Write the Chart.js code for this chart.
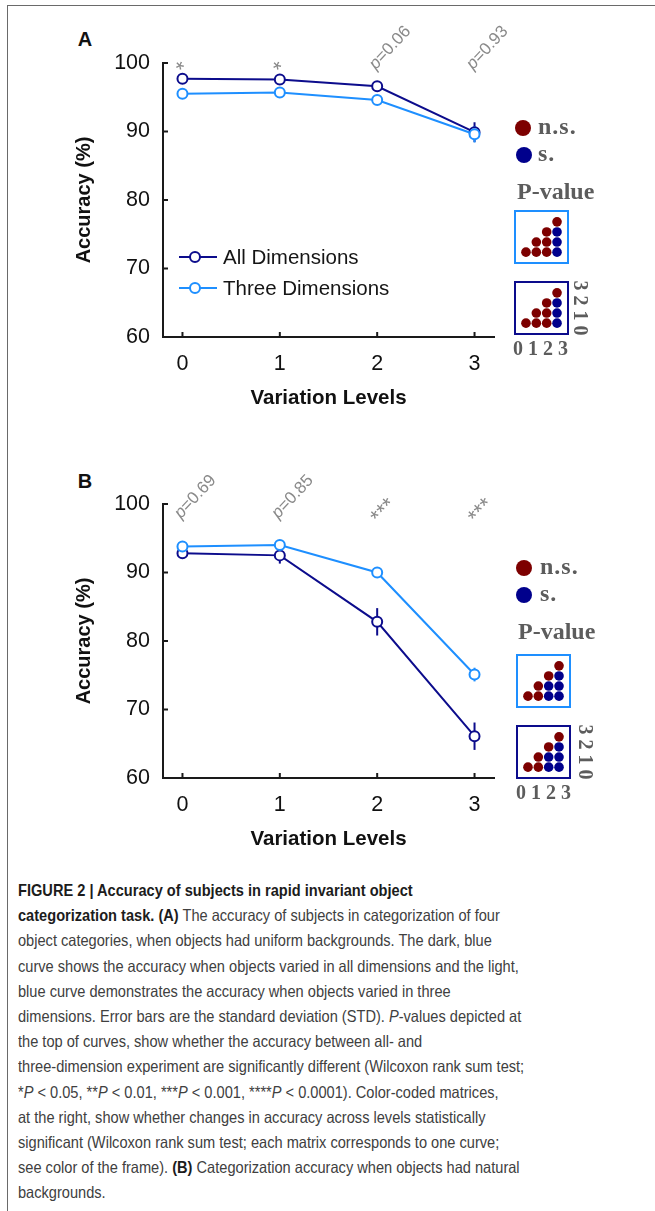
<!DOCTYPE html>
<html>
<head>
<meta charset="utf-8">
<script src="https://cdn.jsdelivr.net/npm/chart.js@4.4.0/dist/chart.umd.min.js"></script>
<style>
  html, body { margin: 0; padding: 0; background: #fff; }
  body { width: 655px; height: 1211px; position: relative; overflow: hidden; font-family: 'Liberation Sans', Arial, sans-serif; }
  .frame { position: absolute; left: 7px; top: 5px; right: -5px; bottom: -5px; border-left: 1.5px solid #6a6a6a; border-top: 1.5px solid #6a6a6a; }
  .abs { position: absolute; }
  .panel-letter { font: bold 20px 'Liberation Sans', Arial, sans-serif; color: #111; transform: translate(-50%, -50%); }
  .dot { width: 16px; height: 16px; border-radius: 50%; transform: translate(-50%, -50%); }
  .serif { font-family: 'Liberation Serif', 'Times New Roman', serif; font-weight: bold; color: #5c5c5c; white-space: nowrap; }
  .key { font-size: 24px; letter-spacing: 1px; transform: translateY(-50%); }
  .key.pv { letter-spacing: 0; }
  .mbox { border: 2px solid; width: 51px; height: 50px; }
  .mbox canvas { display: block; }
  .idx { font-size: 20px; white-space: pre; transform: translateY(-50%); }
  .rowidx { font-size: 20px; white-space: pre; transform: translate(-50%, -50%) rotate(90deg); }
  #caption { position: absolute; left: 18px; top: 878px; font-size: 16.5px; line-height: 25.2px; color: #404040; }
  #caption .ln { white-space: nowrap; transform: scaleX(0.885); transform-origin: left center; }
  #caption b { color: #1c1c1c; }
</style>
</head>
<body>
<div class="frame"></div>

<div class="abs panel-letter" style="left:85px; top:39px;">A</div>
<div class="abs panel-letter" style="left:85px; top:481px;">B</div>

<canvas id="chartA" class="abs" width="520" height="420" style="left:0; top:0;"></canvas>
<canvas id="chartB" class="abs" width="520" height="420" style="left:0; top:441px;"></canvas>

<!-- significance key, panel A -->
<div class="abs dot" style="left:523px; top:128px; background:#7d0000;"></div>
<div class="abs serif key" style="left:538px; top:126px;">n.s.</div>
<div class="abs dot" style="left:524px; top:155px; background:#00008c;"></div>
<div class="abs serif key" style="left:538px; top:153px;">s.</div>
<div class="abs serif key pv" style="left:517px; top:191px;">P-value</div>
<div class="abs mbox" style="left:514px; top:210px; border-color:#1e8fff;"><canvas id="matALight" width="51" height="50"></canvas></div>
<div class="abs mbox" style="left:514px; top:281px; border-color:#0c0c8c;"><canvas id="matADark" width="51" height="50"></canvas></div>
<div class="abs serif idx" style="left:513px; top:348px;">0 1 2 3</div>
<div class="abs serif rowidx" style="left:580px; top:308px;">3 2 1 0</div>

<!-- significance key, panel B -->
<div class="abs dot" style="left:524px; top:568px; background:#7d0000;"></div>
<div class="abs serif key" style="left:540px; top:566px;">n.s.</div>
<div class="abs dot" style="left:524px; top:595px; background:#00008c;"></div>
<div class="abs serif key" style="left:540px; top:593px;">s.</div>
<div class="abs serif key pv" style="left:518px; top:631px;">P-value</div>
<div class="abs mbox" style="left:516px; top:654px; border-color:#1e8fff;"><canvas id="matBLight" width="51" height="50"></canvas></div>
<div class="abs mbox" style="left:516px; top:725px; border-color:#0c0c8c;"><canvas id="matBDark" width="51" height="50"></canvas></div>
<div class="abs serif idx" style="left:516px; top:792px;">0 1 2 3</div>
<div class="abs serif rowidx" style="left:585px; top:752px;">3 2 1 0</div>

<div id="caption">
  <div class="ln"><b>FIGURE 2 | Accuracy of subjects in rapid invariant object</b></div>
  <div class="ln"><b>categorization task. (A)</b> The accuracy of subjects in categorization of four</div>
  <div class="ln">object categories, when objects had uniform backgrounds. The dark, blue</div>
  <div class="ln">curve shows the accuracy when objects varied in all dimensions and the light,</div>
  <div class="ln">blue curve demonstrates the accuracy when objects varied in three</div>
  <div class="ln">dimensions. Error bars are the standard deviation (STD). <i>P</i>-values depicted at</div>
  <div class="ln">the top of curves, show whether the accuracy between all- and</div>
  <div class="ln">three-dimension experiment are significantly different (Wilcoxon rank sum test;</div>
  <div class="ln">*<i>P</i> &lt; 0.05, **<i>P</i> &lt; 0.01, ***<i>P</i> &lt; 0.001, ****<i>P</i> &lt; 0.0001). Color-coded matrices,</div>
  <div class="ln">at the right, show whether changes in accuracy across levels statistically</div>
  <div class="ln">significant (Wilcoxon rank sum test; each matrix corresponds to one curve;</div>
  <div class="ln">see color of the frame). <b>(B)</b> Categorization accuracy when objects had natural</div>
  <div class="ln">backgrounds.</div>
</div>

<script>
// variation levels on the x axis
const levels = [0, 1, 2, 3];
const yTicks = [60, 70, 80, 90, 100];
const seriesNames = ['All Dimensions', 'Three Dimensions'];

// panel A: uniform backgrounds
const accAllA = [97.7, 97.6, 96.6, 89.9];
const errAllA = [0.3, 0.4, 0.4, 1.45];
const accThreeA = [95.5, 95.7, 94.6, 89.6];
const errThreeA = [0.3, 0.3, 0.4, 1.2];
const sigA = ['*', '*', 'p=0.06', 'p=0.93'];

// panel B: natural backgrounds
const accAllB = [92.8, 92.5, 82.8, 66.1];
const errAllB = [0.4, 1.2, 2.0, 2.0];
const accThreeB = [93.8, 94.0, 90.0, 75.1];
const errThreeB = [0.3, 0.4, 0.4, 1.0];
const sigB = ['p=0.69', 'p=0.85', '***', '***'];

// level-vs-level significance matrices, row r holds columns r..3 (1 = significant)
const matALight = [[0, 0, 0, 1], [0, 0, 1], [0, 1], [0]];
const matADark = [[0, 0, 0, 1], [0, 0, 1], [0, 1], [0]];
const matBLight = [[0, 0, 1, 1], [0, 1, 1], [0, 1], [0]];
const matBDark = [[0, 0, 1, 1], [0, 1, 1], [0, 1], [0]];

const DARK = '#0c0c8c';
const LIGHT = '#1e8fff';
const RED = '#7d0000';
const NAVY = '#00008c';
const SANS = "'Liberation Sans', Arial, sans-serif";

function makePanel(id, allVals, allErr, threeVals, threeErr, sig, sigOffset, withLegend) {
  const ctx = document.getElementById(id).getContext('2d');

  const errorBars = {
    id: 'errorBars',
    beforeDatasetsDraw(chart) {
      const { ctx, scales: { x, y } } = chart;
      ctx.save();
      ctx.lineWidth = 2;
      chart.data.datasets.forEach(ds => {
        ctx.strokeStyle = ds.borderColor;
        ds.data.forEach((p, i) => {
          const px = x.getPixelForValue(p.x);
          ctx.beginPath();
          ctx.moveTo(px, y.getPixelForValue(p.y - ds.err[i]));
          ctx.lineTo(px, y.getPixelForValue(p.y + ds.err[i]));
          ctx.stroke();
        });
      });
      ctx.restore();
    }
  };

  const decorations = {
    id: 'decorations',
    afterDraw(chart) {
      const { ctx, chartArea, scales: { x, y } } = chart;
      ctx.save();
      // inward tick marks
      ctx.strokeStyle = '#1a1a1a';
      ctx.lineWidth = 2;
      yTicks.forEach(v => {
        const py = y.getPixelForValue(v);
        ctx.beginPath();
        ctx.moveTo(chartArea.left, py);
        ctx.lineTo(chartArea.left + 5, py);
        ctx.stroke();
      });
      levels.forEach(v => {
        const px = x.getPixelForValue(v);
        ctx.beginPath();
        ctx.moveTo(px, chartArea.bottom);
        ctx.lineTo(px, chartArea.bottom - 5);
        ctx.stroke();
      });

      // p-values / stars above each level
      ctx.fillStyle = '#8a8a8a';
      ctx.textBaseline = 'middle';
      ctx.textAlign = 'left';
      levels.forEach((v, i) => {
        const label = sig[i];
        const isStar = label[0] === '*';
        ctx.save();
        ctx.translate(x.getPixelForValue(v) - 5 + (isStar ? 3 : 0), chartArea.top + sigOffset + (isStar ? 5 : 0));
        ctx.rotate(-47 * Math.PI / 180);
        if (label.startsWith('p=')) {
          ctx.font = 'italic 17px ' + SANS;
          ctx.fillText('p', 0, 0);
          const w = ctx.measureText('p').width;
          ctx.font = '17px ' + SANS;
          ctx.fillText(label.slice(1), w, 0);
        } else {
          ctx.font = '22px ' + SANS;
          ctx.fillText(label, 0, 0);
        }
        ctx.restore();
      });

      if (withLegend) {
        chart.data.datasets.forEach((ds, i) => {
          const ly = chartArea.top + 194 + i * 31;
          const lx = chartArea.left + 16;
          ctx.strokeStyle = ds.borderColor;
          ctx.lineWidth = 2;
          ctx.beginPath();
          ctx.moveTo(lx, ly);
          ctx.lineTo(lx + 38, ly);
          ctx.stroke();
          ctx.beginPath();
          ctx.arc(lx + 16, ly, 5, 0, Math.PI * 2);
          ctx.fillStyle = '#fff';
          ctx.fill();
          ctx.stroke();
          ctx.fillStyle = '#151515';
          ctx.font = '20.5px ' + SANS;
          ctx.fillText(ds.label, lx + 44, ly + 1);
        });
      }
      ctx.restore();
    }
  };

  const line = (label, vals, err, color, order) => ({
    label,
    data: levels.map((lv, i) => ({ x: lv, y: vals[i] })),
    err,
    order,
    borderColor: color,
    borderWidth: 2,
    pointRadius: 5,
    pointBorderWidth: 2,
    pointBackgroundColor: '#fff',
    pointBorderColor: color,
    tension: 0,
    clip: false
  });

  return new Chart(ctx, {
    type: 'line',
    data: {
      datasets: [
        line(seriesNames[0], allVals, allErr, DARK, 1),
        line(seriesNames[1], threeVals, threeErr, LIGHT, 0)
      ]
    },
    options: {
      responsive: false,
      animation: false,
      devicePixelRatio: 1,
      layout: { padding: { top: 63, right: 26, left: 72, bottom: 0 } },
      plugins: { legend: { display: false }, tooltip: { enabled: false } },
      scales: {
        x: {
          type: 'linear',
          min: -0.2,
          max: 3.2,
          afterBuildTicks: s => { s.ticks = levels.map(v => ({ value: v })); },
          afterFit: s => { s.height = 83; },
          grid: { display: false, drawTicks: false },
          border: { display: true, color: '#1a1a1a', width: 2 },
          ticks: { color: '#111', padding: 14, font: { family: SANS, size: 21.5 }, maxRotation: 0 },
          title: { display: true, text: 'Variation Levels', color: '#111', font: { family: SANS, size: 20.5, weight: 'bold' }, padding: { top: 0, bottom: 9 } }
        },
        y: {
          min: 60,
          max: 100,
          afterBuildTicks: s => { s.ticks = yTicks.map(v => ({ value: v })); },
          afterFit: s => { s.width = 91; },
          grid: { display: false, drawTicks: false },
          border: { display: true, color: '#1a1a1a', width: 2 },
          ticks: { color: '#111', padding: 13, font: { family: SANS, size: 21.5 } },
          title: { display: true, text: 'Accuracy (%)', color: '#111', font: { family: SANS, size: 20, weight: 'bold' }, padding: 0 }
        }
      }
    },
    plugins: [errorBars, decorations]
  });
}

function makeMatrix(id, rows) {
  const ns = [];
  const s = [];
  rows.forEach((row, r) => row.forEach((v, k) => {
    (v ? s : ns).push({ x: r + k, y: r });
  }));
  const dots = (data, color) => ({ data, backgroundColor: color, pointRadius: 4.8, pointBorderWidth: 0, borderWidth: 0 });
  return new Chart(document.getElementById(id).getContext('2d'), {
    type: 'scatter',
    data: { datasets: [dots(ns, RED), dots(s, NAVY)] },
    options: {
      responsive: false,
      animation: false,
      devicePixelRatio: 1,
      layout: { padding: 0 },
      plugins: { legend: { display: false }, tooltip: { enabled: false } },
      scales: {
        x: { display: false, min: -0.5, max: 3.5 },
        y: { display: false, min: -0.5, max: 3.5 }
      }
    }
  });
}

makePanel('chartA', accAllA, errAllA, accThreeA, errThreeA, sigA, 4, true);
makePanel('chartB', accAllB, errAllB, accThreeB, errThreeB, sigB, 12, false);
makeMatrix('matALight', matALight);
makeMatrix('matADark', matADark);
makeMatrix('matBLight', matBLight);
makeMatrix('matBDark', matBDark);
</script>
</body>
</html>
